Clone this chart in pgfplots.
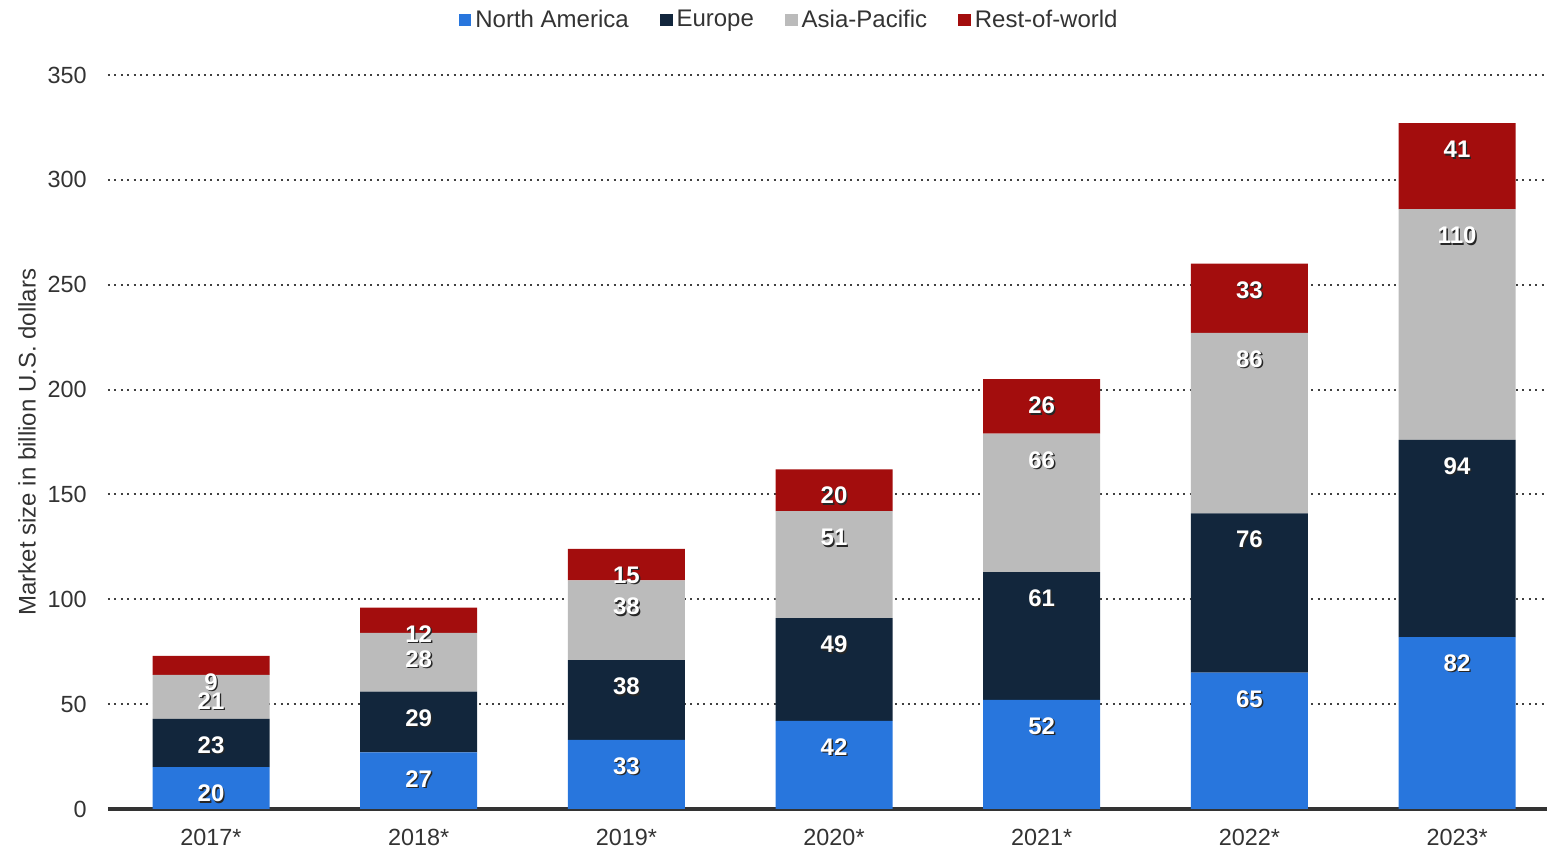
\documentclass[border=0pt]{standalone}
\usepackage{pgfplots}
\pgfplotsset{compat=1.18}
\usepackage{pgfplotstable}
\usepackage{fontspec}
\setmainfont{Liberation Sans}
\definecolor{cNA}{HTML}{2876DD}
\definecolor{cEU}{HTML}{12263C}
\definecolor{cAP}{HTML}{BBBBBB}
\definecolor{cRW}{HTML}{A30D0D}
\definecolor{txt}{HTML}{333333}
\newcommand\shadowtext[1]{\rlap{\kern0.7pt\raisebox{-0.7pt}{\textcolor{black!85}{#1}}}\textcolor{white}{#1}}

\pgfplotstableread{
x na eu ap rw
0 20 23 21 9
1 27 29 28 12
2 33 38 38 15
3 42 49 51 20
4 52 61 66 26
5 65 76 86 33
6 82 94 110 41
}\datatable

\begin{document}
\begin{tikzpicture}
\path[use as bounding box] (-54pt,-20.5pt) rectangle (719.5pt,404.5pt);
\begin{axis}[
  scale only axis, width=719.5pt, height=367pt,
  at={(0,0)}, anchor=south west,
  ybar stacked, bar width=58.5pt,
  xmin=-0.496, xmax=6.433, ymin=0, ymax=350,
  xtick={0,1,2,3,4,5,6},
  xticklabels={2017*,2018*,2019*,2020*,2021*,2022*,2023*},
  ytick={0,50,100,150,200,250,300,350},
  major tick length=0pt,
  /pgf/number format/assume math mode=true,
  tick label style={color=txt, font=\fontsize{11.7}{12}\selectfont},
  yticklabel style={inner sep=0pt, xshift=-10.5pt},
  xticklabel style={inner sep=0pt, anchor=north, yshift=-10pt},
  axis x line*=bottom, axis y line*=left,
  y axis line style={draw=none},
  x axis line style={-, line width=2pt, color=txt},
  ymajorgrids,
  major grid style={line width=1pt, dash pattern=on 1pt off 2.2pt, color=black!75},
  every axis y label/.style={at={(axis description cs:0,0.5)}, xshift=-40.5pt, rotate=90, anchor=center, color=txt, font=\fontsize{12}{12}\selectfont},
  ylabel={Market size in billion U.S. dollars},
  point meta=explicit,
  nodes near coords={\shadowtext{\pgfmathprintnumber{\pgfplotspointmeta}}},
  nodes near coords align={center},
  every node near coord/.append style={anchor=center, yshift=\segval*0.524286pt-13.5pt, font=\bfseries\fontsize{12}{12}\selectfont},
  legend columns=4,
  legend style={at={(axis description cs:0.474,1)}, anchor=center, yshift=27.5pt, draw=none, fill=none,
    font=\fontsize{12}{12}\selectfont, text=txt,
    /tikz/every even column/.append style={column sep=13.5pt}},
  legend image code/.code={\fill[#1] (0pt,-3.2pt) rectangle (6.4pt,3.2pt);},
]
\addplot[fill=cNA, draw=none, visualization depends on={\thisrow{na} \as \segval}] table[x=x, y=na, meta=na] {\datatable};
\addplot[fill=cEU, draw=none, visualization depends on={\thisrow{eu} \as \segval}] table[x=x, y=eu, meta=eu] {\datatable};
\addplot[fill=cAP, draw=none, visualization depends on={\thisrow{ap} \as \segval}] table[x=x, y=ap, meta=ap] {\datatable};
\addplot[fill=cRW, draw=none, visualization depends on={\thisrow{rw} \as \segval}] table[x=x, y=rw, meta=rw] {\datatable};
\legend{North America, Europe, Asia-Pacific, Rest-of-world}
\end{axis}
\end{tikzpicture}
\end{document}
